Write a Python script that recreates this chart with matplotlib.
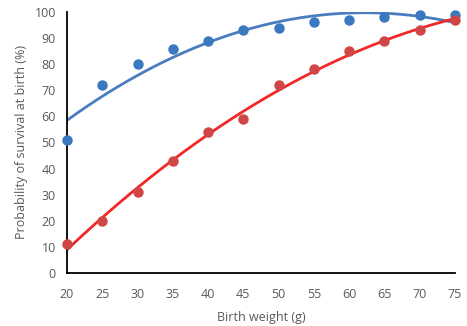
#Survival probability vs birth weight with 2nd order trendlines
import numpy as np
import matplotlib.pyplot as plt

weight = [20, 25, 30, 35, 40, 45, 50, 55, 60, 65, 70, 75]
blue_surv = [51, 72, 80, 86, 89, 93, 94, 96, 97, 98, 99, 99]
red_surv = [11, 20, 31, 43, 54, 59, 72, 78, 85, 89, 93, 97]
xticks = [20, 25, 30, 35, 40, 45, 50, 55, 60, 65, 70, 75]
yticks = [0, 10, 20, 30, 40, 50, 60, 70, 80, 90, 100]

plt.rcParams['font.family'] = ['Open Sans', 'DejaVu Sans']
grey = '#595959'

fig = plt.figure(figsize=(4.67, 3.26), dpi=100)
ax = fig.add_axes([0.1435, 0.163, 0.8305, 0.8])

xs = np.linspace(weight[0], weight[-1], 200)

#trendlines (polynomial, order 2)
for ys, lc, mc in [(blue_surv, '#4A7CC0', '#3A78C0'), (red_surv, '#F02828', '#D04545')]:
    c = np.polyfit(weight, ys, 2)
    ax.plot(xs, np.polyval(c, xs), color=lc, lw=2, zorder=2)
    ax.plot(weight, ys, 'o', color=mc, ms=6.5, zorder=3, clip_on=False)

ax.set_xlim(20, 75)
ax.set_ylim(0, 100)
ax.set_xticks(xticks)
ax.set_yticks(yticks)
ax.tick_params(axis='y', length=0, labelsize=9, labelcolor=grey, pad=8)
ax.tick_params(axis='x', length=0, labelsize=9, labelcolor=grey, pad=11)
for s in ['top', 'right']:
    ax.spines[s].set_visible(False)
for s in ['left', 'bottom']:
    ax.spines[s].set_linewidth(1.3)
ax.set_xlabel('Birth weight (g)', fontsize=9, color=grey, labelpad=7)
ax.set_ylabel('Probability of survival at birth (%)', fontsize=9, color=grey, labelpad=5)

plt.savefig('out.png', dpi=100)
